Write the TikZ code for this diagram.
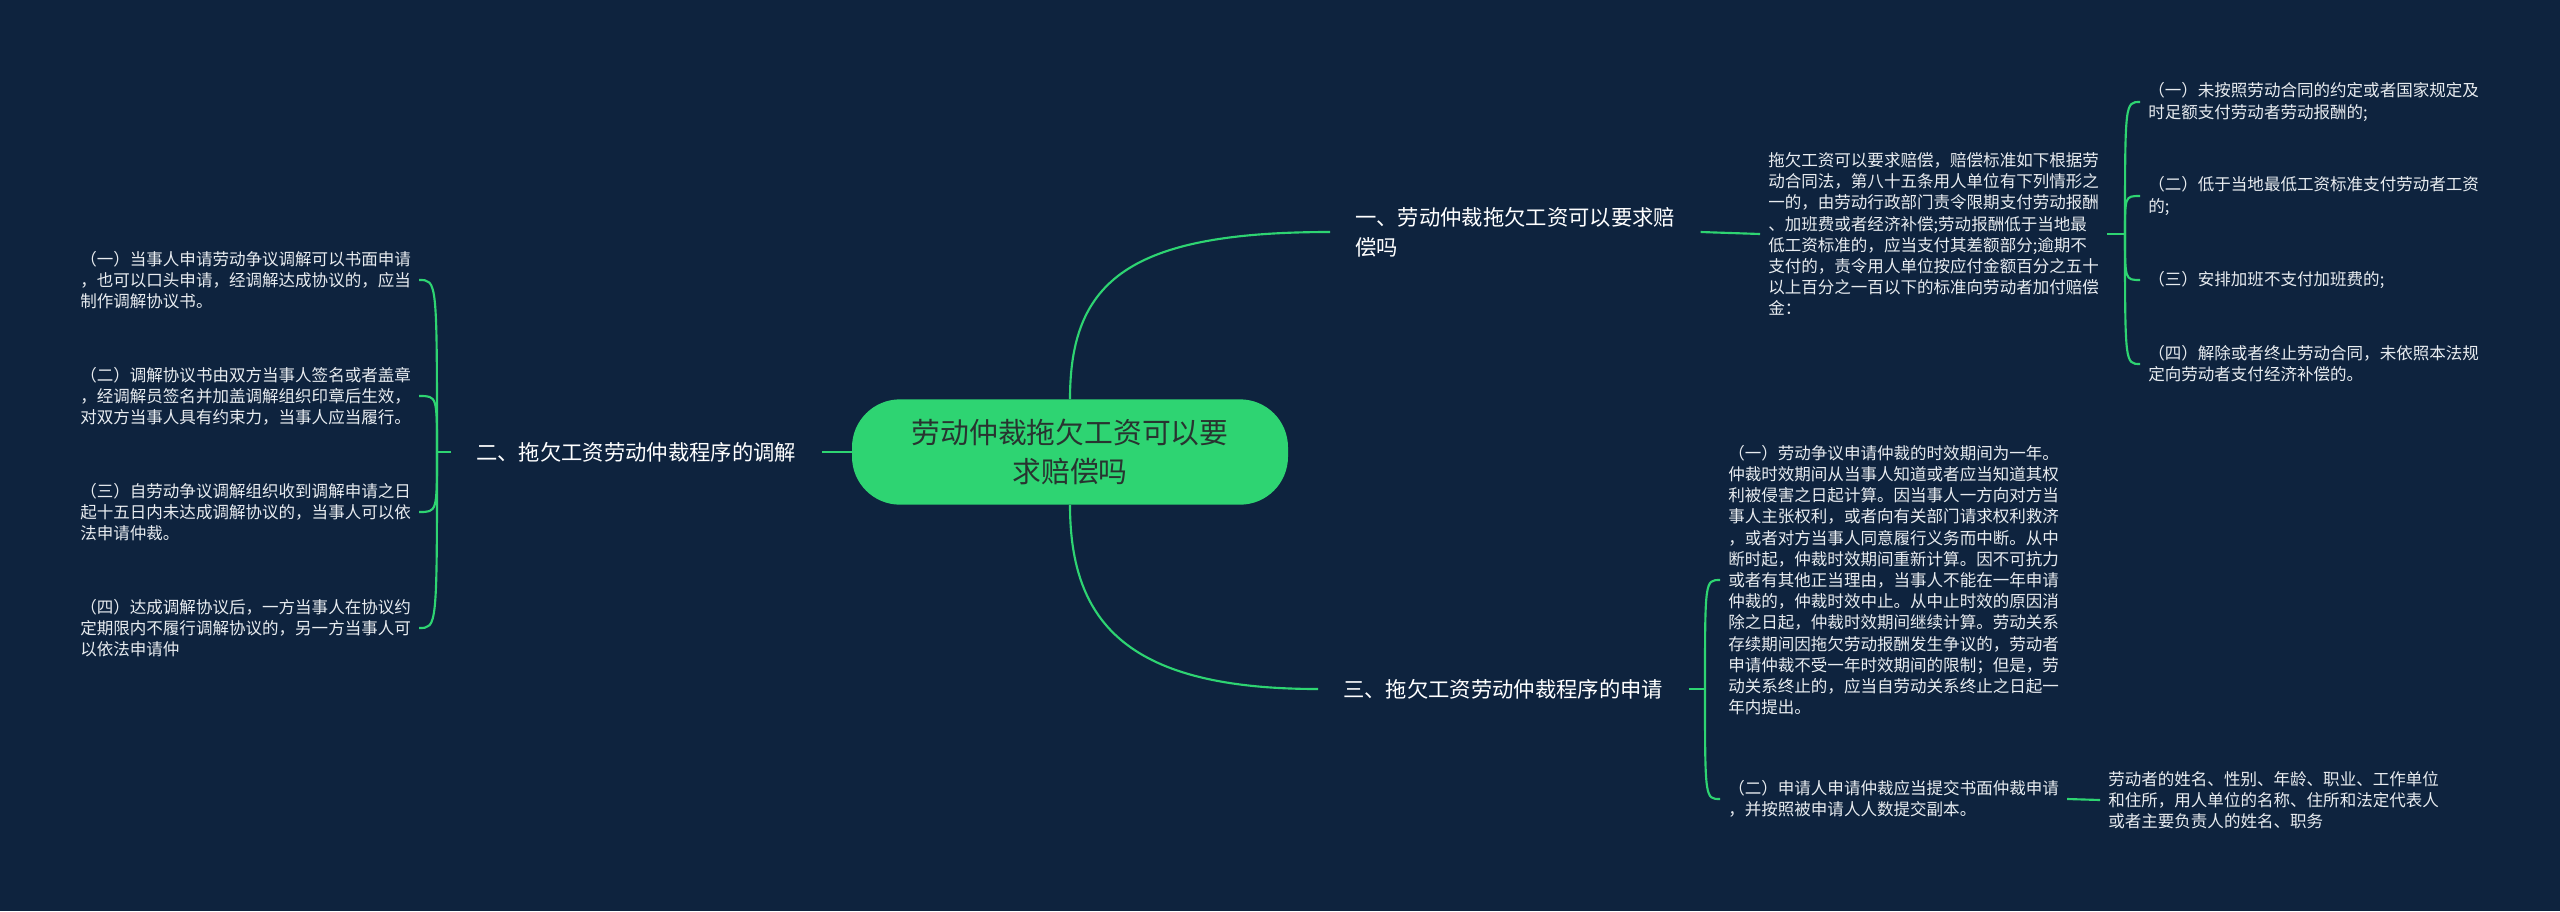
\documentclass[tikz,border=0pt]{standalone}
\usepackage{fontspec}
\setmainfont{Noto Sans CJK SC}
\definecolor{bg}{RGB}{14,35,62}
\definecolor{mmgreen}{RGB}{46,212,114}
\definecolor{roottext}{RGB}{40,52,48}
\definecolor{leaftext}{RGB}{232,236,240}

\begin{document}
\begin{tikzpicture}[x=0.75pt, y=-0.75pt,
  root/.style={fill=mmgreen, rounded corners=36pt, minimum width=327pt, minimum height=79pt, text=roottext, align=center, font=\fontsize{21.6}{29}\selectfont},
  branch/.style={anchor=west, text=white, align=left, inner xsep=18.75pt, inner ysep=0pt, font=\fontsize{16}{22.5}\selectfont},
  leaf/.style={anchor=west, text=leaftext, align=left, inner xsep=6pt, inner ysep=0pt, font=\fontsize{12.4}{15.9}\selectfont},
  link/.style={draw=mmgreen, line width=1.6pt}]
  \fill[bg] (0,0) rectangle (2560,911);
  \useasboundingbox (0,0) rectangle (2560,911);

  \node[root] (root) at (1070,452) {劳动仲裁拖欠工资可以要\\求赔偿吗};
  \node[branch] (pay) at (1330,232) {一、劳动仲裁拖欠工资可以要求赔\\偿吗};
  \node[branch] (mediate) at (451,452) {二、拖欠工资劳动仲裁程序的调解};
  \node[branch] (apply) at (1318,689) {三、拖欠工资劳动仲裁程序的申请};
  \draw[link] (root.north) .. controls (1070,280) and (1130,232) .. (pay.west);
  \draw[link] (root.south) .. controls (1070,625) and (1130,689) .. (apply.west);
  \draw[link] (root.west) -- (mediate.east);

  % 二
  \coordinate (jm) at (437,452);
  \draw[link] (mediate.west) -- (jm);
  \foreach \y/\n/\t in {
    280/m1/{（一）当事人申请劳动争议调解可以书面申请\\，也可以口头申请，经调解达成协议的，应当\\制作调解协议书。},
    396/m2/{（二）调解协议书由双方当事人签名或者盖章\\，经调解员签名并加盖调解组织印章后生效，\\对双方当事人具有约束力，当事人应当履行。},
    512/m3/{（三）自劳动争议调解组织收到调解申请之日\\起十五日内未达成调解协议的，当事人可以依\\法申请仲裁。},
    628/m4/{（四）达成调解协议后，一方当事人在协议约\\定期限内不履行调解协议的，另一方当事人可\\以依法申请仲}} {
    \node[leaf] (\n) at (72,\y) {\t};
    \draw[link] (jm) .. controls (jm |- \n.east) .. (\n.east);
  }

  % 一
  \node[leaf] (payText) at (1760,234) {拖欠工资可以要求赔偿，赔偿标准如下根据劳\\动合同法，第八十五条用人单位有下列情形之\\一的，由劳动行政部门责令限期支付劳动报酬\\、加班费或者经济补偿;劳动报酬低于当地最\\低工资标准的，应当支付其差额部分;逾期不\\支付的，责令用人单位按应付金额百分之五十\\以上百分之一百以下的标准向劳动者加付赔偿\\金：};
  \draw[link] (pay.east) -- (payText.west);
  \coordinate (jp) at (2125,234);
  \draw[link] (payText.east) -- (jp);
  \foreach \y/\n/\t in {
    102/p1/{（一）未按照劳动合同的约定或者国家规定及\\时足额支付劳动者劳动报酬的;},
    196/p2/{（二）低于当地最低工资标准支付劳动者工资\\的;},
    280/p3/{（三）安排加班不支付加班费的;},
    364/p4/{（四）解除或者终止劳动合同，未依照本法规\\定向劳动者支付经济补偿的。}} {
    \node[leaf] (\n) at (2140,\y) {\t};
    \draw[link] (jp) .. controls (jp |- \n.west) .. (\n.west);
  }

  % 三
  \node[leaf] (a1) at (1720,580) {（一）劳动争议申请仲裁的时效期间为一年。\\仲裁时效期间从当事人知道或者应当知道其权\\利被侵害之日起计算。因当事人一方向对方当\\事人主张权利，或者向有关部门请求权利救济\\，或者对方当事人同意履行义务而中断。从中\\断时起，仲裁时效期间重新计算。因不可抗力\\或者有其他正当理由，当事人不能在一年申请\\仲裁的，仲裁时效中止。从中止时效的原因消\\除之日起，仲裁时效期间继续计算。劳动关系\\存续期间因拖欠劳动报酬发生争议的，劳动者\\申请仲裁不受一年时效期间的限制；但是，劳\\动关系终止的，应当自劳动关系终止之日起一\\年内提出。};
  \node[leaf] (a2) at (1720,799) {（二）申请人申请仲裁应当提交书面仲裁申请\\，并按照被申请人人数提交副本。};
  \node[leaf] (a3) at (2100,800) {劳动者的姓名、性别、年龄、职业、工作单位\\和住所，用人单位的名称、住所和法定代表人\\或者主要负责人的姓名、职务};
  \coordinate (ja) at (1705,689);
  \draw[link] (apply.east) -- (ja);
  \foreach \n in {a1,a2}
    \draw[link] (ja) .. controls (ja |- \n.west) .. (\n.west);
  \draw[link] (a2.east) -- (a3.west);
\end{tikzpicture}
\end{document}
